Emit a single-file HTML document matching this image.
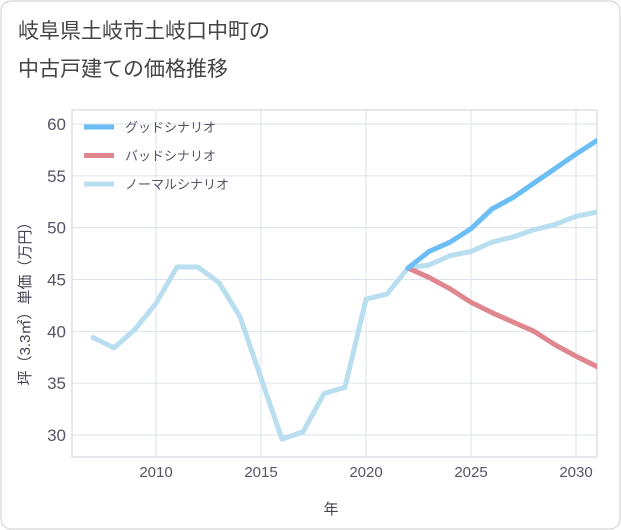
<!DOCTYPE html>
<html><head><meta charset="utf-8"><style>
body{margin:0;background:#fff;font-family:"Liberation Sans","Noto Sans CJK JP",sans-serif;}
#wrap{position:relative;width:621px;height:530px;}
</style></head><body>
<div id="wrap">
<svg id="chart" width="621" height="530" style="position:absolute;left:0;top:0">
<rect x="1" y="1" width="619" height="528" rx="10" fill="#fff" stroke="#ccc"/>
<text x="18" y="38" font-size="21" fill="#444">岐阜県土岐市土岐口中町の</text>
<text x="18" y="76" font-size="21" fill="#444">中古戸建ての価格推移</text>
<g id="grid"></g><g id="axes"></g><g id="series"></g><g id="legend"></g>
<text x="331" y="514" font-size="15" fill="#445" text-anchor="middle">年</text>
<text transform="translate(30,300) rotate(-90)" font-size="15" fill="#445" text-anchor="middle">坪（3.3㎡）単価（万円）</text>
</svg>
</div>
<script>
const normalYears=[2007,2008,2009,2010,2011,2012,2013,2014,2015,2016,2017,2018,2019,2020,2021,2022,2023,2024,2025,2026,2027,2028,2029,2030,2031];
const normalValues=[39.4,38.4,40.2,42.7,46.2,46.2,44.7,41.4,35.5,29.6,30.3,34.0,34.6,43.1,43.6,46.1,46.4,47.3,47.7,48.6,49.1,49.8,50.3,51.1,51.5];
const goodYears=[2022,2023,2024,2025,2026,2027,2028,2029,2030,2031];
const goodValues=[46.1,47.7,48.6,49.9,51.8,52.9,54.3,55.7,57.1,58.4];
const badYears=[2022,2023,2024,2025,2026,2027,2028,2029,2030,2031];
const badValues=[46.1,45.2,44.1,42.8,41.8,40.9,40.0,38.7,37.6,36.6];
const xTicks=[2010,2015,2020,2025,2030];
const yTicks=[30,35,40,45,50,55,60];
const legendLabels=["グッドシナリオ","バッドシナリオ","ノーマルシナリオ"];
const NS="http://www.w3.org/2000/svg";
const L=72,R=597,T=110,B=457;
const xs=y=>156+(y-2010)*21;
const ys=v=>435-(v-30)*(311/30);
function mk(tag,attrs,parent){const e=document.createElementNS(NS,tag);for(const k in attrs)e.setAttribute(k,attrs[k]);parent.appendChild(e);return e;}
const grid=document.getElementById('grid'),axes=document.getElementById('axes'),ser=document.getElementById('series'),leg=document.getElementById('legend');
const bg=mk('rect',{x:L,y:T,width:R-L,height:B-T,fill:'#fff',stroke:'#ccd3da'},grid);


xTicks.forEach(t=>{
 const l=mk('line',{x1:xs(t),x2:xs(t),y1:T,y2:B,stroke:'#dde3ea'},grid);
 
 
 const tx=mk('text',{x:xs(t),y:B+20,'font-size':15,fill:'#556','text-anchor':'middle'},axes);
 tx.textContent=t;
 
 
});
yTicks.forEach(t=>{
 const l=mk('line',{x1:L,x2:R,y1:ys(t),y2:ys(t),stroke:'#dde3ea'},grid);
 
 
 const tx=mk('text',{x:L-6,y:ys(t)+6,'font-size':17,fill:'#556','text-anchor':'end'},axes);
 tx.textContent=t;
 
 
});
function line(years,vals,color,name){
 const p=mk('polyline',{points:years.map((y,i)=>xs(y)+','+ys(vals[i])).join(' '),fill:'none',stroke:color,'stroke-width':5,'stroke-linejoin':'round','stroke-linecap':'round'},ser);
 
 
}
ser.setAttribute('clip-path','url(#clip)');
const defs=mk('defs',{},document.getElementById('chart'));
const cp=mk('clipPath',{id:'clip'},defs);mk('rect',{x:L,y:T,width:R-L,height:B-T},cp);
line(normalYears,normalValues,'#b9def0','normal-scenario-line');
line(badYears,badValues,'#e0868f','bad-scenario-line');
line(goodYears,goodValues,'#6bbdf5','good-scenario-line');
const colors=['#6bbdf5','#e0868f','#b9def0'];
legendLabels.forEach((lab,i)=>{
 const y=127+i*28.5;
 const l=mk('line',{x1:84,x2:114,y1:y,y2:y,stroke:colors[i],'stroke-width':5},leg);
 
 
 const t=mk('text',{x:125,y:y+5,'font-size':13,fill:'#556'},leg);
 t.textContent=lab;
 
 
});
</script>
</body></html>
